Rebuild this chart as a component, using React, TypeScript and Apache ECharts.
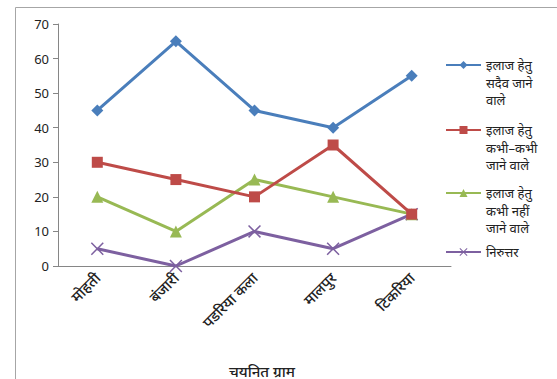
import React, { useEffect, useRef } from "react";
import * as echarts from "echarts";

const categories = ["मोहती", "बंजारी", "पडरिया कला", "मालपुर", "टिकरिया"];
const seriesNames = [
  ["इलाज हेतु", "सदैव जाने", "वाले"],
  ["इलाज हेतु", "कभी–कभी", "जाने वाले"],
  ["इलाज हेतु", "कभी नहीं", "जाने वाले"],
  ["निरुत्तर"],
];
const alwaysGo = [45, 65, 45, 40, 55];
const sometimesGo = [30, 25, 20, 35, 15];
const neverGo = [20, 10, 25, 20, 15];
const noAnswer = [5, 0, 10, 5, 15];
const yTicks = [0, 10, 20, 30, 40, 50, 60, 70];
const xAxisTitle = "चयनित ग्राम";

const colors = ["#4A7EBB", "#BE4B48", "#98B954", "#7D60A0"];
const symbols = [
  "diamond",
  "rect",
  "triangle",
  "path://M1,0 L6,5 L11,0 L12,1 L7,6 L12,11 L11,12 L6,7 L1,12 L0,11 L5,6 L0,1 Z",
];
const symbolSizes = [12, 11, 12, 13];
const legendCenters = [60, 125, 188, 247];
const FONT = "'Noto Sans', 'Liberation Sans', sans-serif";

export default function App() {
  const ref = useRef<HTMLDivElement>(null);
  useEffect(() => {
    document.body.style.margin = "0";
    const chart = echarts.init(ref.current!, null, { renderer: "svg" });
    const data = [alwaysGo, sometimesGo, neverGo, noAnswer];
    const names = seriesNames.map((l) => l.join(" "));
    const lineH = 17.5;
    const legends = names.map((n, i) => {
      const lines = seriesNames[i];
      const pad = lines.length - 1;
      const total = lines.length + pad;
      return {
        orient: "vertical",
        left: 440,
        top: legendCenters[i] - (total * lineH) / 2,
        itemWidth: 35,
        itemHeight: 10,
        data: [n],
        formatter: () => "\n".repeat(pad) + lines.join("\n"),
        textStyle: { fontFamily: FONT, fontSize: 13, color: "#222", lineHeight: lineH },
        selectedMode: false,
      };
    });
    chart.setOption({
      animation: false,
      backgroundColor: "#fff",
      graphic: [
        {
          type: "rect",
          left: 13,
          top: 5,
          shape: { width: 600, height: 420 },
          style: { fill: "none", stroke: "#a6a6a6", lineWidth: 1 },
          silent: true,
        },
      ],
      grid: { left: 58, right: 106, top: 24, bottom: 113, outerBoundsMode: "none", containLabel: false },
      legend: legends,
      xAxis: {
        type: "category",
        data: categories,
        boundaryGap: true,
        axisLine: { lineStyle: { color: "#868686", width: 1 } },
        axisTick: { length: 5, lineStyle: { color: "#868686" } },
        axisLabel: {
          rotate: 45,
          margin: 9,
          fontFamily: FONT,
          fontSize: 15,
          fontWeight: 500,
          color: "#222",
          interval: 0,
        },
        name: xAxisTitle,
        nameLocation: "middle",
        nameGap: 97,
        nameTextStyle: { fontFamily: FONT, fontSize: 15, fontWeight: 500, color: "#222", padding: [0, 0, 0, 15] },
      },
      yAxis: {
        type: "value",
        min: yTicks[0],
        max: yTicks[yTicks.length - 1],
        interval: 10,
        splitLine: { show: false },
        axisLine: { show: true, lineStyle: { color: "#868686", width: 1 } },
        axisTick: { show: true, length: 5, lineStyle: { color: "#868686" } },
        axisLabel: { fontFamily: FONT, fontSize: 13, color: "#222", margin: 9 },
      },
      series: names.map((n, i) => ({
        name: n,
        type: "line",
        data: data[i],
        symbol: symbols[i],
        symbolSize: symbolSizes[i],
        showAllSymbol: true,
        lineStyle: { color: colors[i], width: 3 },
        itemStyle: { color: colors[i] },
        z: 10 - i,
      })),
    });
    return () => chart.dispose();
  }, []);
  return <div ref={ref} style={{ width: 557, height: 379 }} />;
}
